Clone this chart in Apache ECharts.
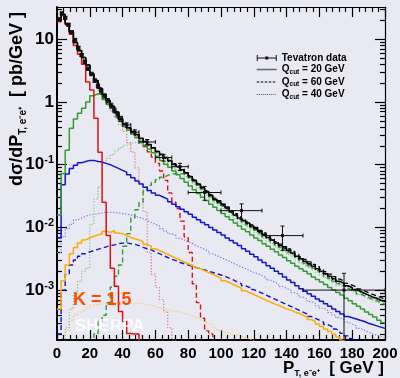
<!DOCTYPE html>
<html><head><meta charset="utf-8">
<script src="https://cdn.jsdelivr.net/npm/echarts@6/dist/echarts.min.js"></script>
<style>html,body{margin:0;padding:0;background:#e9e9f3}#c{width:400px;height:378px}</style>
</head><body><div id="c"></div>
<script>
// ---- binning: 80 bins of 2.5 GeV from 0 to 200 ----
const BIN_WIDTH = 2.5;
const N_BINS = 80;

// ---- totals (black) ----
const tot20 = [
 20.0,25.1,17.8,13.2,8.91,6.61,5.13,3.89,2.82,2.19,
 1.66,1.32,1.05,0.851,0.692,0.537,0.447,0.389,0.339,0.302,
 0.263,0.234,0.209,0.186,0.162,0.145,0.129,0.115,0.102,0.0933,
 0.0832,0.0741,0.0646,0.0562,0.0490,0.0427,0.0372,0.0324,0.0282,0.0257,
 0.0229,0.0204,0.0178,0.0158,0.0141,0.0129,0.0117,0.0105,0.00955,0.00851,
 0.00776,0.00692,0.00631,0.00562,0.00513,0.00468,0.00427,0.00389,0.00347,0.00316,
 0.00288,0.00263,0.00240,0.00219,0.00200,0.00182,0.00166,0.00151,0.00138,0.00129,
 0.00117,0.00110,0.00102,0.000955,0.000891,0.000832,0.000776,0.000741,0.000692,0.000661];
const tot60 = [
 20.0,25.1,17.8,13.2,8.91,6.61,5.13,3.89,2.82,2.19,
 1.66,1.32,1.05,0.851,0.692,0.537,0.447,0.389,0.339,0.302,
 0.263,0.234,0.209,0.186,0.163,0.146,0.131,0.117,0.104,0.0950,
 0.0850,0.0760,0.0665,0.0580,0.0505,0.0440,0.0385,0.0335,0.0292,0.0266,
 0.0237,0.0212,0.0185,0.0165,0.0147,0.0135,0.0122,0.0110,0.0100,0.00895,
 0.00815,0.00728,0.00665,0.00595,0.00542,0.00495,0.00452,0.00413,0.00368,0.00337,
 0.00308,0.00282,0.00258,0.00236,0.00215,0.00196,0.00180,0.00164,0.00150,0.00140,
 0.00128,0.00120,0.00112,0.00104,0.000975,0.000912,0.000852,0.000812,0.000760,0.000725];
const tot40 = [
 19.8,24.8,17.6,13.0,8.80,6.55,5.08,3.85,2.80,2.17,
 1.64,1.31,1.04,0.845,0.685,0.530,0.440,0.382,0.332,0.296,
 0.258,0.229,0.204,0.182,0.158,0.141,0.126,0.112,0.0995,0.0910,
 0.0812,0.0723,0.0631,0.0549,0.0479,0.0417,0.0364,0.0317,0.0276,0.0251,
 0.0224,0.0200,0.0174,0.0155,0.0138,0.0126,0.0115,0.0103,0.00935,0.00834,
 0.00760,0.00678,0.00618,0.00551,0.00503,0.00459,0.00419,0.00381,0.00340,0.00310,
 0.00282,0.00258,0.00235,0.00215,0.00196,0.00178,0.00163,0.00148,0.00135,0.00126,
 0.00115,0.00108,0.00100,0.000936,0.000873,0.000815,0.000760,0.000726,0.000678,0.000648];

// ---- Qcut = 20 GeV (solid) ----
const red20 = [19.1,24.0,17.0,12.0,7.94,5.75,3.98,2.09,1.55,0.550,
 0.158,0.0251,0.00741,0.00224,0.00115,0.000457,0.000316,0.000204,0.000200,0.000200];
const green20 = [
 0.0158,0.0724,0.170,0.380,0.537,0.661,0.794,1.00,1.26,1.35,
 1.32,1.10,0.912,0.794,0.661,0.490,0.407,0.355,0.309,0.269,
 0.234,0.204,0.178,0.155,0.135,0.117,0.102,0.0912,0.0794,0.0692,
 0.0603,0.0525,0.0457,0.0398,0.0347,0.0302,0.0269,0.0234,0.0209,0.0186,
 0.0166,0.0148,0.0132,0.0117,0.0105,0.00933,0.00851,0.00759,0.00676,0.00617,
 0.00550,0.00501,0.00447,0.00407,0.00363,0.00331,0.00295,0.00269,0.00240,0.00219,
 0.00200,0.00182,0.00162,0.00148,0.00135,0.00123,0.00110,0.00100,0.000912,0.000832,
 0.000741,0.000676,0.000603,0.000550,0.000501,0.000447,0.000407,0.000372,0.000331,0.000302];
const blue20 = [
 0.00676,0.0479,0.0708,0.0871,0.0977,0.107,0.112,0.117,0.117,0.112,
 0.110,0.105,0.100,0.0933,0.0871,0.0813,0.0759,0.0692,0.0617,0.0550,
 0.0490,0.0437,0.0389,0.0355,0.0324,0.0302,0.0282,0.0257,0.0234,0.0214,
 0.0195,0.0178,0.0162,0.0145,0.0132,0.0120,0.0110,0.0100,0.00912,0.00832,
 0.00759,0.00676,0.00617,0.00562,0.00513,0.00457,0.00417,0.00372,0.00339,0.00302,
 0.00275,0.00245,0.00224,0.00200,0.00182,0.00162,0.00145,0.00132,0.00117,0.00105,
 0.000955,0.000871,0.000794,0.000724,0.000661,0.000603,0.000550,0.000501,0.000457,0.000417,
 0.000380,0.000363,0.000347,0.000331,0.000316,0.000295,0.000282,0.000269,0.000257,0.000245];
const orange20 = [
 0.000501,0.00141,0.00251,0.00380,0.00479,0.00562,0.00631,0.00676,0.00724,0.00759,
 0.00794,0.00871,0.00832,0.00891,0.00813,0.00794,0.00741,0.00692,0.00661,0.00631,
 0.00589,0.00537,0.00501,0.00457,0.00427,0.00398,0.00372,0.00347,0.00324,0.00302,
 0.00282,0.00263,0.00245,0.00229,0.00219,0.00204,0.00191,0.00178,0.00166,0.00155,
 0.00141,0.00132,0.00123,0.00115,0.00107,0.000977,0.000912,0.000851,0.000794,0.000741,
 0.000692,0.000646,0.000603,0.000575,0.000537,0.000501,0.000479,0.000447,0.000427,0.000398,
 0.000372,0.000339,0.000316,0.000288,0.000263,0.000240,0.000219,0.000200,0.000178,0.000158];

// ---- Qcut = 60 GeV (dashed) ----
const red60 = [
 19.9,25.0,17.7,13.1,8.85,6.57,5.10,3.86,2.80,2.17,
 1.64,1.30,1.04,0.840,0.680,0.525,0.435,0.375,0.318,0.275,
 0.230,0.195,0.160,0.132,0.105,0.0794,0.0562,0.0355,0.0251,0.0200,
 0.0126,0.00708,0.00398,0.00126,0.000631,0.000355,0.000224,0.000200];
const green60 = [
 0,0,0,0,0,0,0,0,0,0.000200,
 0.000316,0.000398,0.000631,0.00112,0.00166,0.00251,0.00501,0.00794,0.0141,0.0191,
 0.0251,0.0380,0.0468,0.0525,0.0575,0.0631,0.0676,0.0708,0.0724,0.0724,
 0.0708,0.0676,0.0617,0.0537,0.0468,0.0407,0.0355,0.0308,0.0268,0.0243,
 0.0217,0.0194,0.0169,0.0150,0.0133,0.0122,0.0110,0.00990,0.00898,0.00800,
 0.00727,0.00647,0.00589,0.00525,0.00478,0.00435,0.00397,0.00362,0.00321,0.00293,
 0.00267,0.00244,0.00222,0.00203,0.00184,0.00167,0.00153,0.00139,0.00127,0.00118,
 0.00107,0.00100,0.000935,0.000868,0.000812,0.000760,0.000710,0.000677,0.000632,0.000602];
const blue60 = [
 0.000200,0.00100,0.00178,0.00251,0.00302,0.00347,0.00380,0.00407,0.00427,0.00447,
 0.00468,0.00490,0.00513,0.00525,0.00550,0.00562,0.00562,0.00550,0.00537,0.00513,
 0.00479,0.00457,0.00437,0.00407,0.00380,0.00355,0.00331,0.00309,0.00295,0.00275,
 0.00263,0.00251,0.00240,0.00229,0.00219,0.00209,0.00200,0.00191,0.00182,0.00174,
 0.00166,0.00155,0.00145,0.00135,0.00126,0.00117,0.00110,0.00102,0.000955,0.000891,
 0.000832,0.000776,0.000724,0.000676,0.000631,0.000589,0.000550,0.000513,0.000479,0.000447,
 0.000417,0.000380,0.000355,0.000331,0.000309,0.000282,0.000263,0.000240,0.000224,0.000204,
 0.000186,0.000170,0.000155];

// ---- Qcut = 40 GeV (dotted) ----
const red40 = [
 19.8,24.8,17.6,13.0,8.80,6.50,5.00,3.75,2.68,2.05,
 1.52,1.18,0.920,0.720,0.560,0.430,0.339,0.224,0.158,0.0891,
 0.0501,0.0178,0.00398,0.00178,0.00110,0.000708,0.000447,0.000251,0.000158];
const green40 = [
 0,0,0.000251,0.000501,0.000891,0.00138,0.00200,0.00224,0.0112,0.0282,
 0.0447,0.105,0.126,0.145,0.166,0.186,0.204,0.219,0.224,0.224,
 0.214,0.195,0.178,0.158,0.141,0.126,0.112,0.100,0.0891,0.0813,
 0.0724,0.0646,0.0562,0.0490,0.0427,0.0372,0.0324,0.0282,0.0245,0.0224,
 0.0200,0.0178,0.0155,0.0138,0.0123,0.0112,0.0102,0.00912,0.00832,0.00741,
 0.00676,0.00603,0.00550,0.00490,0.00447,0.00407,0.00372,0.00339,0.00302,0.00275,
 0.00251,0.00229,0.00209,0.00191,0.00174,0.00158,0.00145,0.00132,0.00120,0.00112,
 0.00102,0.000955,0.000891,0.000832,0.000776,0.000724,0.000676,0.000646,0.000603,0.000575];
const blue40 = [
 0.00398,0.00708,0.00955,0.0112,0.0132,0.0141,0.0151,0.0158,0.0162,0.0166,
 0.0170,0.0174,0.0174,0.0174,0.0170,0.0166,0.0162,0.0158,0.0151,0.0145,
 0.0138,0.0129,0.0120,0.0112,0.0105,0.00955,0.00871,0.00794,0.00741,0.00676,
 0.00631,0.00589,0.00550,0.00513,0.00479,0.00447,0.00417,0.00380,0.00355,0.00331,
 0.00309,0.00288,0.00269,0.00251,0.00234,0.00219,0.00204,0.00191,0.00182,0.00170,
 0.00158,0.00145,0.00135,0.00126,0.00115,0.00107,0.00100,0.000912,0.000851,0.000776,
 0.000724,0.000661,0.000617,0.000562,0.000513,0.000479,0.000437,0.000398,0.000363,0.000339,
 0.000309,0.000288,0.000269,0.000245,0.000229,0.000214,0.000200,0.000191,0.000182,0.000174];
const orange40 = [
 0,0,0.000224,0.000316,0.000398,0.000447,0.000479,0.000525,0.000575,0.000589,
 0.000603,0.000617,0.000603,0.000617,0.000631,0.000617,0.000603,0.000617,0.000603,0.000617,
 0.000603,0.000589,0.000575,0.000550,0.000525,0.000501,0.000479,0.000468,0.000457,0.000447,
 0.000427,0.000407,0.000389,0.000363,0.000339,0.000316,0.000295,0.000275,0.000251,0.000229,
 0.000214,0.000204,0.000195,0.000191,0.000182,0.000174,0.000166,0.000158,0.000148];

// ---- Tevatron data: centre, half-width, value, error ----
const dataX = [1,3,5,7,9,11,13,15,17,19,21,23,25,27,29,31,33,35,37,39,42.5,47.5,55,65,75,90,112.5,137.5,175];
const dataXErr = [1,1,1,1,1,1,1,1,1,1,1,1,1,1,1,1,1,1,1,1,2.5,2.5,5,5,5,10,12.5,12.5,25];
const dataY = [21,26,22,17,13,9.8,7.3,5.6,4.4,3.4,2.8,2.2,1.8,1.5,1.25,1.05,0.88,0.74,0.63,0.54,0.43,0.33,0.23,0.13,0.093,0.036,0.0185,0.0074,0.001];
const dataYErr = [1.2,1.4,1.2,0.9,0.7,0.5,0.4,0.32,0.26,0.21,0.18,0.15,0.13,0.11,0.095,0.085,0.075,0.065,0.058,0.05,0.035,0.03,0.022,0.016,0.012,0.009,0.0052,0.0031,0.00085];

// ---- axes ----
const X_MIN = 0, X_MAX = 200, X_STEP = 20;
const Y_MIN = 1.6e-4, Y_MAX = 32.7;
const yMajorTicks = [0.001, 0.01, 0.1, 1, 10];
const yMinorTicks = [];
for (let d = -4; d <= 1; d++) for (let m = 2; m <= 9; m++) {
  const v = m * Math.pow(10, d); if (v > Y_MIN && v < Y_MAX) yMinorTicks.push(v);
}

const FONT = '"Liberation Sans", Arial, Helvetica, sans-serif';
const FLOOR = 1e-7;
function hist(vals) {
  const pts = [];
  for (let i = 0; i < N_BINS; i++) {
    const v = (i < vals.length && vals[i] > 0) ? vals[i] : FLOOR;
    pts.push([i * BIN_WIDTH, v]);
  }
  pts.push([N_BINS * BIN_WIDTH, pts[pts.length - 1][1]]);
  return pts;
}
const DASH = [5, 3], DOT = [1.3, 1.7];
function H(name, vals, color, width, type, z) {
  return { type: 'line', name, data: hist(vals), step: 'end', symbol: 'none', showSymbol: false,
    lineStyle: { color, width, type }, itemStyle: { color }, z, silent: true, animation: false, clip: true };
}

function renderData(params, api) {
  const x = api.value(0), xe = api.value(1), y = api.value(2), ye = api.value(3);
  const c = api.coord([x, y]), l = api.coord([x - xe, y]), r = api.coord([x + xe, y]);
  const t = api.coord([x, y + ye]), b = api.coord([x, Math.max(y - ye, Y_MIN)]);
  const st = { stroke: '#111', lineWidth: 1 };
  const cap = 2;
  return { type: 'group', children: [
    { type: 'line', shape: { x1: l[0], y1: l[1], x2: r[0], y2: r[1] }, style: st },
    { type: 'line', shape: { x1: t[0], y1: t[1], x2: b[0], y2: b[1] }, style: st },
    { type: 'line', shape: { x1: l[0], y1: l[1] - cap, x2: l[0], y2: l[1] + cap }, style: st },
    { type: 'line', shape: { x1: r[0], y1: r[1] - cap, x2: r[0], y2: r[1] + cap }, style: st },
    { type: 'line', shape: { x1: t[0] - cap, y1: t[1], x2: t[0] + cap, y2: t[1] }, style: st },
    { type: 'line', shape: { x1: b[0] - cap, y1: b[1], x2: b[0] + cap, y2: b[1] }, style: st },
    { type: 'rect', shape: { x: c[0] - 1.5, y: c[1] - 1.5, width: 3, height: 3 }, style: { fill: '#111' } }
  ]};
}

const yBase = { type: 'log', logBase: 10, min: Y_MIN, max: Y_MAX, gridIndex: 0, splitLine: { show: false } };
const blackTick = { color: '#000', width: 1.2 };
const yAxes = [
  Object.assign({}, yBase, { position: 'left',
    axisLine: { show: true, lineStyle: { color: '#000', width: 2 } },
    axisTick: { show: true, inside: true, length: 10, customValues: yMajorTicks, lineStyle: blackTick },
    axisLabel: { show: true, customValues: yMajorTicks, margin: 3,
      formatter: v => { const e = Math.round(Math.log10(v)); if (e === 0) return '{b|1}'; if (e === 1) return '{b|10}'; return '{b|10}{s|' + e + '}'; },
      rich: { b: { fontSize: 17, fontWeight: 'bold', fontFamily: FONT, color: '#000', lineHeight: 20 },
              s: { fontSize: 11, fontWeight: 'bold', fontFamily: FONT, color: '#000', lineHeight: 12, verticalAlign: 'top' } } } }),
  Object.assign({}, yBase, { position: 'left', axisLine: { show: false },
    axisTick: { show: true, inside: true, length: 5, customValues: yMinorTicks, lineStyle: blackTick },
    axisLabel: { show: false } }),
  Object.assign({}, yBase, { position: 'right',
    axisLine: { show: true, lineStyle: { color: '#000', width: 1.2 } },
    axisTick: { show: true, inside: true, length: 10, customValues: yMajorTicks, lineStyle: blackTick },
    axisLabel: { show: false } }),
  Object.assign({}, yBase, { position: 'right', axisLine: { show: false },
    axisTick: { show: true, inside: true, length: 5, customValues: yMinorTicks, lineStyle: blackTick },
    axisLabel: { show: false } })
];
const xBase = { type: 'value', min: X_MIN, max: X_MAX, interval: X_STEP, gridIndex: 0, splitLine: { show: false },
  minorTick: { show: true, splitNumber: 5, length: 5, lineStyle: blackTick } };
const xAxes = [
  Object.assign({}, xBase, { position: 'bottom',
    axisLine: { show: true, lineStyle: { color: '#000', width: 2 } },
    axisTick: { show: true, inside: true, length: 10, lineStyle: blackTick },
    axisLabel: { show: true, margin: 6, fontSize: 15, fontWeight: 'bold', fontFamily: FONT, color: '#000' } }),
  Object.assign({}, xBase, { position: 'top',
    axisLine: { show: true, lineStyle: { color: '#000', width: 1.2 } },
    axisTick: { show: true, inside: true, length: 10, lineStyle: blackTick },
    axisLabel: { show: false } })
];

const C = { red: '#e01010', green: '#2f9e2f', blue: '#1414d2', orange: '#ffab00',
  pink: '#e27c7c', lgreen: '#7fc87f', lblue: '#7d7de8', lorange: '#ffc75a' };

const series = [
  H('o40', orange40, C.lorange, 1.2, DOT, 2),
  H('b40', blue40, C.lblue, 1.2, DOT, 2),
  H('g40', green40, C.lgreen, 1.2, DOT, 2),
  H('r40', red40, C.pink, 1.2, DOT, 2),
  H('b60', blue60, C.blue, 1.4, DASH, 3),
  H('g60', green60, C.green, 1.4, DASH, 3),
  H('r60', red60, C.red, 1.4, DASH, 3),
  H('o20', orange20, C.orange, 1.5, 'solid', 4),
  H('b20', blue20, C.blue, 1.5, 'solid', 4),
  H('g20', green20, C.green, 1.5, 'solid', 4),
  H('r20', red20, C.red, 1.5, 'solid', 4),
  H('Qcut = 40 GeV', tot40, '#000', 1.2, DOT, 5),
  H('Qcut = 60 GeV', tot60, '#000', 1.3, DASH, 5),
  H('Qcut = 20 GeV', tot20, '#000', 1.5, 'solid', 6),
  { type: 'custom', name: 'Tevatron data', renderItem: renderData, z: 10, clip: true, animation: false,
    encode: { x: 0, y: 2 },
    data: dataX.map((x, i) => [x, dataXErr[i], dataY[i], dataYErr[i]]) }
];

const chart = echarts.init(document.getElementById('c'), null, { renderer: 'canvas' });
chart.setOption({
  backgroundColor: '#e9e9f3',
  animation: false,
  grid: { left: 57, top: 7, width: 328, height: 333, containLabel: false, outerBoundsMode: 'none' },
  xAxis: xAxes,
  yAxis: yAxes,
  legend: {
    orient: 'vertical', left: 251, top: 48, itemWidth: 20, itemHeight: 9, itemGap: 1.5,
    data: [
      { name: 'Tevatron data', icon: 'path://M0,4.5h20v1h-20z M0,2h1v6h-1z M19,2h1v6h-1z M8.5,3.5h3v3h-3z', itemStyle: { color: '#111' } },
      { name: 'Qcut = 20 GeV', itemStyle: { opacity: 0 }, lineStyle: { color: '#666', width: 1.5 } },
      { name: 'Qcut = 60 GeV', itemStyle: { opacity: 0 }, lineStyle: { color: '#000', width: 1, type: [2.5, 1.5] } },
      { name: 'Qcut = 40 GeV', itemStyle: { opacity: 0 }, lineStyle: { color: '#555', width: 1, type: [1, 1] } }
    ],
    formatter: n => n === 'Tevatron data' ? '{t|Tevatron data}' : '{t|Q}{s|cut}{t|' + n.slice(4) + '}',
    textStyle: { color: '#000', fontFamily: FONT, rich: {
      t: { fontSize: 10, fontWeight: 'bold', fontFamily: FONT, color: '#000', lineHeight: 12 },
      s: { fontSize: 6.5, fontWeight: 'bold', fontFamily: FONT, color: '#000', lineHeight: 7, verticalAlign: 'bottom' } } }
  },
  graphic: [
    { type: 'text', x: 17, y: 99, rotation: Math.PI / 2, z: 100, silent: true,
      style: { text: '{m|dσ/dP}{s|T, e⁻e⁺}{m|  [ pb/GeV ]}', align: 'center', verticalAlign: 'middle',
        rich: { m: { fontSize: 18, fontWeight: 'bold', fontFamily: FONT, fill: '#000', lineHeight: 22 },
                s: { fontSize: 10, fontWeight: 'bold', fontFamily: FONT, fill: '#000', lineHeight: 12, verticalAlign: 'bottom' } } } },
    { type: 'text', x: 384, y: 368, z: 100, silent: true,
      style: { text: '{m|P}{s|T, e⁻e⁺}{m|  [ GeV ]}', align: 'right', verticalAlign: 'middle',
        rich: { m: { fontSize: 17, fontWeight: 'bold', fontFamily: FONT, fill: '#000', lineHeight: 20 },
                s: { fontSize: 9, fontWeight: 'bold', fontFamily: FONT, fill: '#000', lineHeight: 10, verticalAlign: 'bottom' } } } },
    { type: 'text', x: 73, y: 300, z: 100, silent: true,
      style: { text: 'K = 1.5', fill: '#ff4d00', font: 'bold 18px ' + FONT, align: 'left', verticalAlign: 'middle' } },
    { type: 'text', x: 75, y: 326, z: 99, silent: true,
      style: { text: 'SHERPA', fill: 'rgba(255,255,255,0.85)', font: 'bold 17px ' + FONT, align: 'left', verticalAlign: 'middle' } }
  ],
  series
});
</script></body></html>
